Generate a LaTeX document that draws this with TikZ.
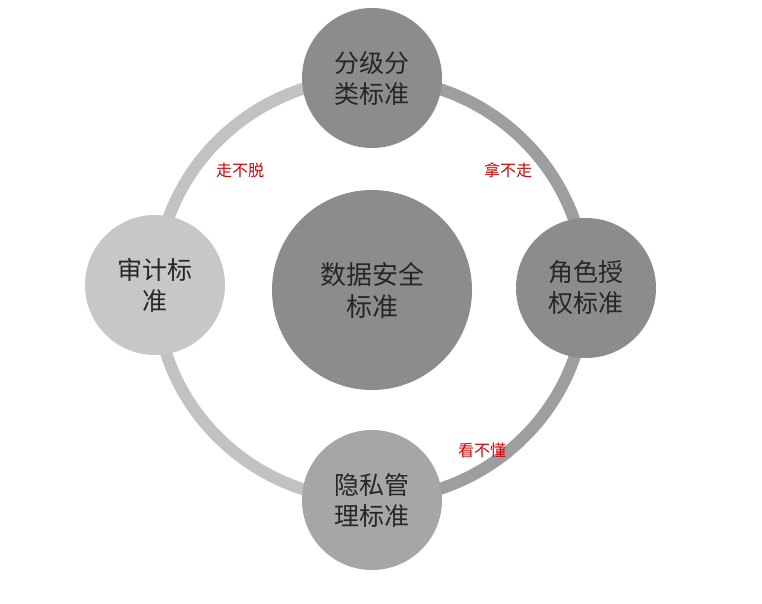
\documentclass[tikz,border=0pt]{standalone}
\usepackage{fontspec}
\newfontfamily\cjk{Noto Sans CJK SC}
\begin{document}
\begin{tikzpicture}[x=1pt,y=-1pt,
  sat/.style={circle,minimum size=140pt,inner sep=0pt,align=center,font=\cjk\fontsize{25}{31}\selectfont,text=black!85},
  lab/.style={font=\cjk\fontsize{16}{19}\selectfont,text=red!85!black}]
\useasboundingbox (0,0) rectangle (762,604);
\draw[line width=12pt,color=black!24] (371,78) arc[start angle=-90,end angle=-270,x radius=215,y radius=211];
\draw[line width=12pt,color=black!38] (371,78) arc[start angle=-90,end angle=90,x radius=215,y radius=211];
\node[circle,minimum size=200pt,fill=black!45,align=center,font=\cjk\fontsize{26}{32}\selectfont,text=black!85] (c) at (372,290) {数据安全\\标准};
\node[sat,fill=black!45] (t) at (372,78) {分级分\\类标准};
\node[sat,fill=black!45] (r) at (586,288) {角色授\\权标准};
\node[sat,fill=black!35] (b) at (372,500) {隐私管\\理标准};
\node[sat,fill=black!22] (l) at (155,285) {审计标\\准};
\node[lab] (l1) at (240,170) {走不脱};
\node[lab] (l2) at (508,170) {拿不走};
\node[lab] (l3) at (482,450) {看不懂};
\end{tikzpicture}
\end{document}
